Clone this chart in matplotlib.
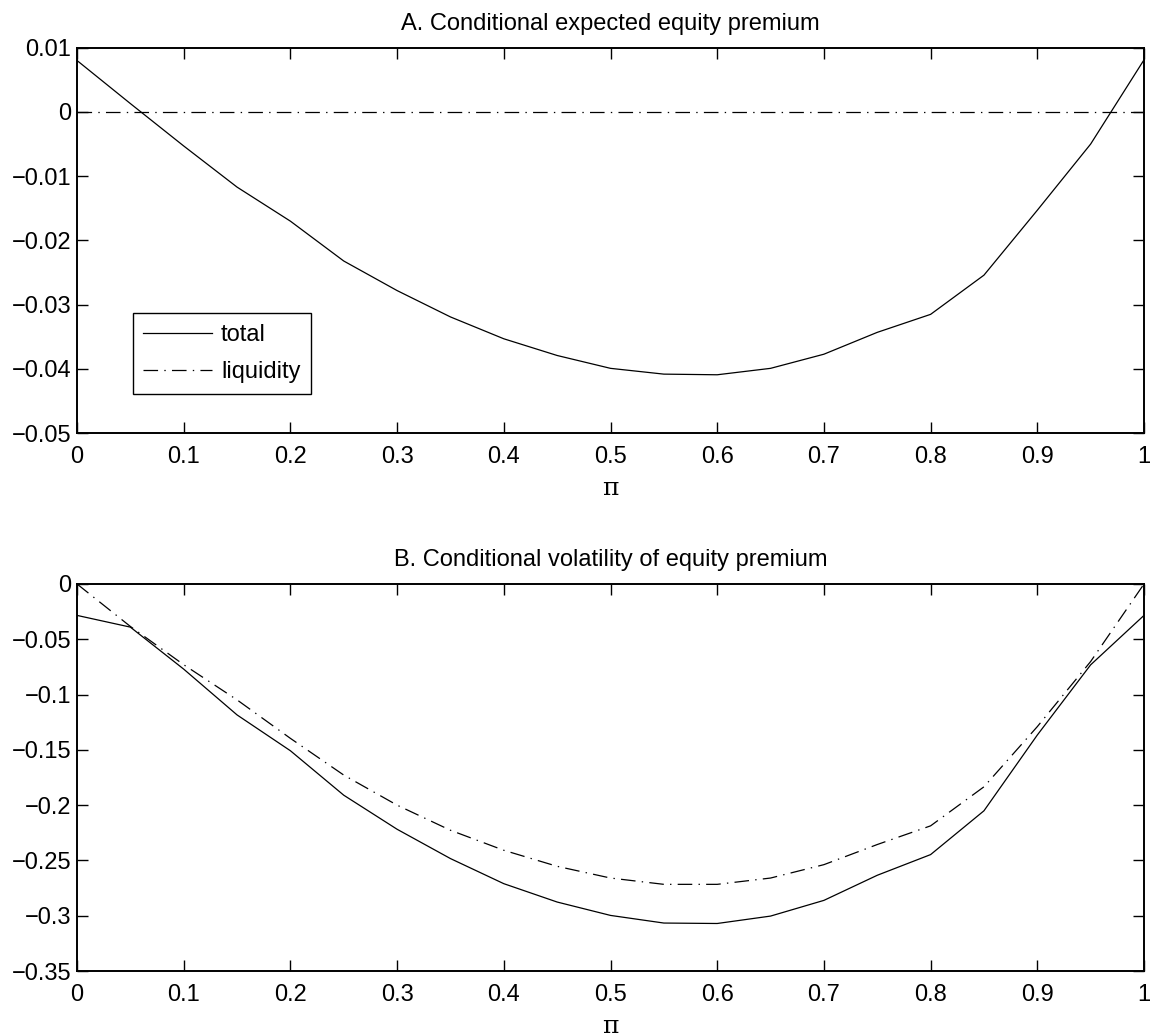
import numpy as np
import matplotlib
matplotlib.use("Agg")
import matplotlib.pyplot as plt
from matplotlib.ticker import FuncFormatter

# share of the grid, pi
pi_grid = [0.0, 0.05, 0.1, 0.15, 0.2, 0.25, 0.3, 0.35, 0.4, 0.45, 0.5,
           0.55, 0.6, 0.65, 0.7, 0.75, 0.8, 0.85, 0.9, 0.95, 1.0]

# panel A: conditional expected equity premium
prem_total = [0.0080, 0.0013, -0.0053, -0.0117, -0.0170, -0.0232, -0.0278,
              -0.0319, -0.0353, -0.0379, -0.0399, -0.0408, -0.0409, -0.0399,
              -0.0377, -0.0343, -0.0315, -0.0254, -0.0153, -0.0050, 0.0081]
prem_liquidity = [0.0] * 21

# panel B: conditional volatility of equity premium
vol_total = [-0.0284, -0.0390, -0.0770, -0.1184, -0.1508, -0.1910, -0.2218,
             -0.2483, -0.2710, -0.2876, -0.2997, -0.3066, -0.3070, -0.3003,
             -0.2861, -0.2634, -0.2447, -0.2051, -0.1366, -0.0731, -0.0284]
vol_liquidity = [0.0, -0.0384, -0.0730, -0.1048, -0.1396, -0.1728, -0.2000,
                 -0.2227, -0.2408, -0.2553, -0.2659, -0.2716, -0.2716, -0.2659,
                 -0.2538, -0.2356, -0.2187, -0.1834, -0.1290, -0.0701, 0.0]

x_ticks = [0, 0.1, 0.2, 0.3, 0.4, 0.5, 0.6, 0.7, 0.8, 0.9, 1]
yticks_a = [-0.05, -0.04, -0.03, -0.02, -0.01, 0, 0.01]
yticks_b = [-0.35, -0.3, -0.25, -0.2, -0.15, -0.1, -0.05, 0]

titles = ["A. Conditional expected equity premium",
          "B. Conditional volatility of equity premium"]

plt.rcParams['font.family'] = ['Liberation Sans', 'DejaVu Sans']
plt.rcParams['font.size'] = 17
plt.rcParams['lines.scale_dashes'] = False

DASHDOT = (0, (10.5, 4.5, 1.0, 4.5))


def fmt(v, pos):
    # matlab style labels: 0, -0.05, -0.1
    s = "{:g}".format(round(v, 6))
    if s == "-0":
        s = "0"
    return s.replace("-", "\u2212")


def style_axes(ax, yticks, ylim):
    ax.set_xlim(0, 1)
    ax.set_ylim(*ylim)
    ax.set_xticks(x_ticks)
    ax.set_yticks(yticks)
    ax.xaxis.set_major_formatter(FuncFormatter(fmt))
    ax.yaxis.set_major_formatter(FuncFormatter(fmt))
    ax.tick_params(direction="in", length=8, width=1.0, top=True, right=True,
                   labelsize=17)
    ax.tick_params(axis="x", pad=9)
    ax.tick_params(axis="y", pad=4)
    for sp in ax.spines.values():
        sp.set_linewidth(1.4)
    ax.set_xlabel("\u03c0", family=["DejaVu Serif"], fontsize=18, labelpad=7)


fig = plt.figure(figsize=(11.6, 10.36), dpi=100)
ax1 = fig.add_axes([0.0664, 0.5818, 0.9198, 0.3722])
ax2 = fig.add_axes([0.0664, 0.0627, 0.9198, 0.3736])

ax1.plot(pi_grid, prem_total, color="black", lw=0.9, label="total")
ax1.plot(pi_grid, prem_liquidity, color="black", lw=0.9, linestyle=DASHDOT,
         label="liquidity")
style_axes(ax1, yticks_a, (-0.05, 0.01))
ax1.set_title(titles[0], fontsize=17, pad=13)
leg = ax1.legend(loc="lower left", bbox_to_anchor=(0.052, 0.102),
                 fancybox=False, edgecolor="black", framealpha=1,
                 handlelength=2.9, handletextpad=0.4, labelspacing=0.65,
                 borderpad=0.45, borderaxespad=0, fontsize=17)
leg.get_frame().set_linewidth(1.0)

ax2.plot(pi_grid, vol_total, color="black", lw=0.9)
ax2.plot(pi_grid, vol_liquidity, color="black", lw=0.9, linestyle=DASHDOT)
style_axes(ax2, yticks_b, (-0.35, 0))
ax2.set_title(titles[1], fontsize=17, pad=13)

plt.savefig("out.png", dpi=100)
